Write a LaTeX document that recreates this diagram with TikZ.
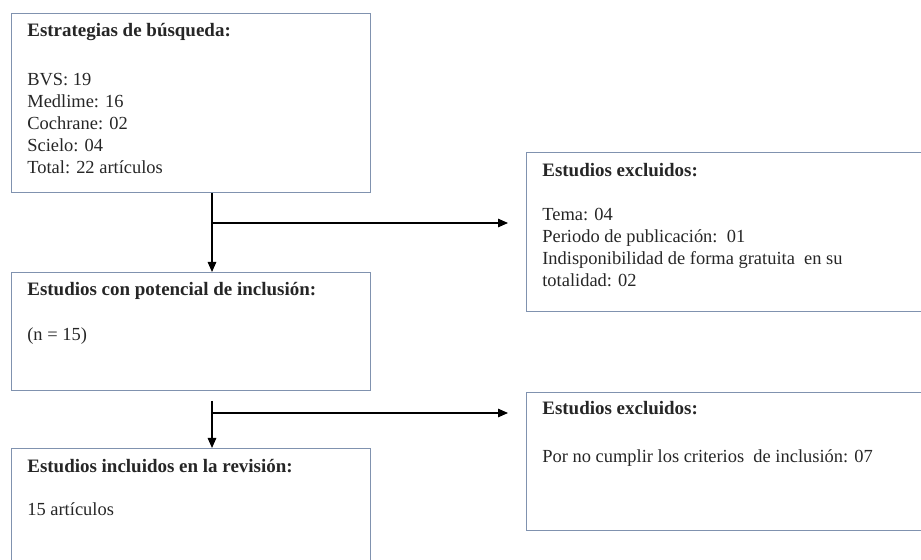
\documentclass[tikz,border=0pt]{standalone}
\usepackage{fontspec}
\setmainfont{Liberation Serif}
\usetikzlibrary{arrows.meta}
\definecolor{borde}{RGB}{128,146,175}
\definecolor{texto}{RGB}{38,38,38}
\begin{document}
\begin{tikzpicture}[x=0.02cm,y=-0.02cm,
    caja/.style={draw=borde,line width=0.7pt,rectangle,inner sep=0pt,anchor=north west},
    titulo/.style={anchor=base west,inner sep=0pt,text=texto,font=\fontsize{10.8}{13}\selectfont\bfseries},
    cuerpo/.style={anchor=north west,inner sep=0pt,align=left,text=texto,font=\fontsize{10.5}{12.6}\selectfont},
    flecha/.style={-{Triangle[length=2mm,width=1.7mm]},line width=0.7pt}]
    \useasboundingbox (0,0) rectangle (921,560);
    \clip (0,0) rectangle (921,560);
    % cajas de la izquierda
    \node[caja,minimum width=7.18cm,minimum height=3.58cm] (busq) at (11,13) {};
    \node[caja,minimum width=7.18cm,minimum height=2.36cm] (pot) at (11,272) {};
    \node[caja,minimum width=7.18cm,minimum height=2.6cm] (incl) at (11,448) {};
    % cajas de la derecha
    \node[caja,minimum width=8.4cm,minimum height=3.18cm] (excl1) at (526,152) {};
    \node[caja,minimum width=8.4cm,minimum height=2.76cm] (excl2) at (526,392) {};
    % textos
    \node[titulo] (busq-tit) at ([shift={(16,24)}]busq.north west) {Estrategias de búsqueda:};
    \node[cuerpo] (busq-txt) at ([shift={(0,35.5)}]busq-tit.base west)
        {BVS: 19\\Medlime: 16\\Cochrane: 02\\Scielo: 04\\Total: 22 artículos};
    \node[titulo] (pot-tit) at ([shift={(16,24)}]pot.north west) {Estudios con potencial de inclusión:};
    \node[cuerpo] (pot-txt) at ([shift={(0,31.5)}]pot-tit.base west) {(n = 15)};
    \node[titulo] (incl-tit) at ([shift={(16,25)}]incl.north west) {Estudios incluidos en la revisión:};
    \node[cuerpo] (incl-txt) at ([shift={(0,29.5)}]incl-tit.base west) {15 artículos};
    \node[titulo] (excl1-tit) at ([shift={(16,25)}]excl1.north west) {Estudios excluidos:};
    \node[cuerpo] (excl1-txt) at ([shift={(0,30.5)}]excl1-tit.base west)
        {Tema: 04\\Periodo de publicación:~~01\\Indisponibilidad de forma gratuita~ en su\\totalidad: 02};
    \node[titulo] (excl2-tit) at ([shift={(16,23)}]excl2.north west) {Estudios excluidos:};
    \node[cuerpo] (excl2-txt) at ([shift={(0,34.5)}]excl2-tit.base west)
        {Por no cumplir los criterios~ de inclusión: 07};
    % flechas
    \coordinate (j1) at (212,223);
    \coordinate (j2a) at (212,401);
    \coordinate (j2) at (212,413);
    \draw[flecha] (j1 |- busq.south) -- (j1 |- pot.north);
    \draw[flecha,shorten >=3.6mm] (j1) -- (j1 -| excl1.west);
    \draw[flecha] (j2a) -- (j2a |- incl.north);
    \draw[flecha,shorten >=3.6mm] (j2) -- (j2 -| excl2.west);
\end{tikzpicture}
\end{document}
